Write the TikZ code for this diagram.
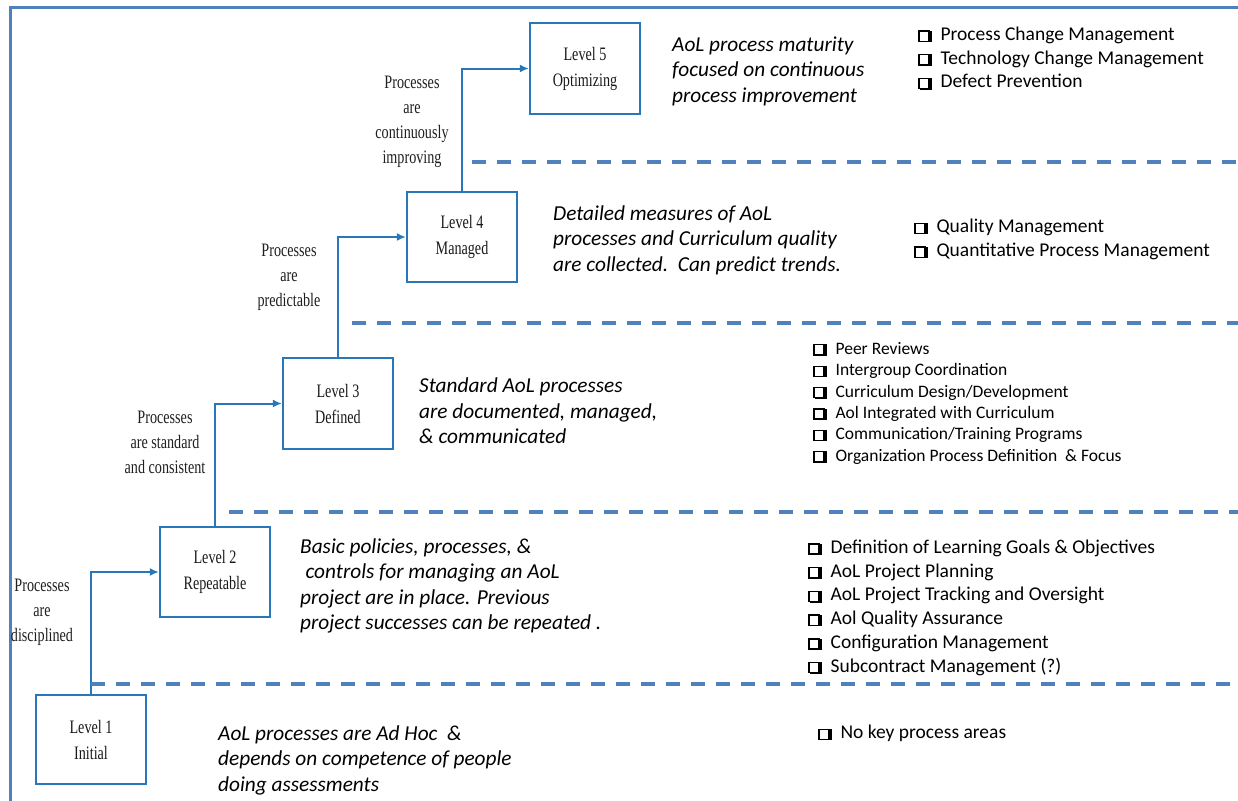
\documentclass[tikz,border=0pt]{standalone}
\usepackage{fontspec}
\setmainfont{Carlito}
\newfontfamily\tnr[FakeStretch=0.745]{Liberation Serif}
\usetikzlibrary{arrows.meta}
\definecolor{boxblue}{HTML}{2777B9}
\definecolor{dashblue}{HTML}{4F81BD}
\newcommand{\cbx}{{\setlength{\fboxsep}{0pt}\setlength{\fboxrule}{1.3pt}%
  \rlap{\hspace{2.2pt}\raisebox{-1.6pt}{\rule{11.4pt}{11.4pt}}}%
  \fcolorbox{black}{white}{\rule{0pt}{8.8pt}\hspace{8.8pt}}}\hspace{11pt}}
\tikzset{
  levelbox/.style={draw=boxblue, line width=2.3pt, minimum width=110pt, minimum height=90pt,
    inner sep=0pt, align=center, font=\tnr\fontsize{19}{26}\selectfont, text=black!90},
  conn/.style={draw=boxblue, line width=2pt, -{Latex[length=9pt,width=8pt]}},
  steplabel/.style={inner sep=0pt, align=center, font=\tnr\fontsize{19}{25}\selectfont, text=black!88},
  desc/.style={inner sep=0pt, anchor=west, align=left, font=\itshape\fontsize{21.3}{25.5}\selectfont},
  kpa/.style={inner sep=0pt, anchor=west, align=left, font=\fontsize{19.5}{23.7}\selectfont},
  kpasmall/.style={inner sep=0pt, anchor=west, align=left, font=\fontsize{17.5}{21.4}\selectfont},
  dashln/.style={draw=dashblue, line width=4pt, dash pattern=on 14pt off 11pt},
  frameln/.style={draw=dashblue, line width=3pt}
}
\begin{document}
\begin{tikzpicture}[x=1pt,y=-1pt]
\useasboundingbox (0,0) rectangle (1238,800);
% frame
\coordinate (fbl) at (10,801);
\coordinate (ftl) at (10,8);
\coordinate (ftr) at (1238,8);
\draw[frameln] (fbl) -- (ftl) -- (ftr);

% level boxes
\node[levelbox, minimum height=91pt] (l5) at (585,68.5) {Level 5\\Optimizing};
\node[levelbox] (l4) at (462,237) {Level 4\\Managed};
\node[levelbox, minimum height=91pt] (l3) at (338,403.5) {Level 3\\Defined};
\node[levelbox] (l2) at (215,572) {Level 2\\Repeatable};
\node[levelbox, minimum height=89pt] (l1) at (91,739.5) {Level 1\\Initial};

% connectors
\draw[conn] (l1.north) |- (l2.west);
\draw[conn] (l2.north) |- (l3.west);
\draw[conn] (l3.north) |- (l4.west);
\draw[conn] (l4.north) |- (l5.west);

% step labels
\node[steplabel] (s5) at (412,121) {\strut Processes\\are\\continuously\\improving\strut};
\node[steplabel] (s4) at (289,276) {\strut Processes\\are\\predictable\strut};
\node[steplabel] (s3) at (165,443.5) {\strut Processes\\are standard\\and consistent\strut};
\node[steplabel] (s2) at (42,611.5) {\strut Processes\\are\\disciplined\strut};

% dashed separators
\coordinate (d1a) at (472,162);  \coordinate (d1b) at (1238,162);
\coordinate (d2a) at (352,323);  \coordinate (d2b) at (1238,323);
\coordinate (d3a) at (229,512);  \coordinate (d3b) at (1238,512);
\coordinate (d4a) at (91,684);   \coordinate (d4b) at (1238,684);
\draw[dashln] (d1a) -- (d1b);
\draw[dashln] (d2a) -- (d2b);
\draw[dashln] (d3a) -- (d3b);
\draw[dashln] (d4a) -- (d4b);

% descriptions
\node[desc] (t5) at (672,71.5) {\strut AoL process maturity\\focused on continuous\\process improvement\strut};
\node[desc] (t4) at (553,240.5) {\strut Detailed measures of AoL\\processes and Curriculum quality\\are collected.\ \ Can predict trends.\strut};
\node[desc] (t3) at (419,413) {\strut Standard AoL processes\\are documented, managed,\\\& communicated\strut};
\node[desc] (t2) at (300,586.5) {\strut Basic policies, processes, \&\\\hspace{0.25em}controls for managing an AoL\\project are in place. Previous\\project successes can be repeated .\strut};
\node[desc] (t1) at (218,760.5) {\strut AoL processes are Ad Hoc\ \ \&\\depends on competence of people\\doing assessments\strut};

% key process areas
\node[kpa] (k5) at (918,59.5) {\strut\cbx Process Change Management\\\cbx Technology Change Management\\\cbx Defect Prevention\strut};
\node[kpa] (k4) at (914,240) {\strut\cbx Quality Management\\\cbx Quantitative Process Management\strut};
\node[kpasmall] (k3) at (813,403.5) {\strut\cbx Peer Reviews\\\cbx Intergroup Coordination\\\cbx Curriculum Design/Development\\\cbx Aol Integrated with Curriculum\\\cbx Communication/Training Programs\\\cbx Organization Process Definition\ \ \& Focus\strut};
\node[kpa] (k2) at (808,608) {\strut\cbx Definition of Learning Goals \& Objectives\\\cbx AoL Project Planning\\\cbx AoL Project Tracking and Oversight\\\cbx Aol Quality Assurance\\\cbx Configuration Management\\\cbx Subcontract Management (?)\strut};
\node[kpa] (k1) at (818,734) {\strut\cbx No key process areas\strut};
\end{tikzpicture}
\end{document}
